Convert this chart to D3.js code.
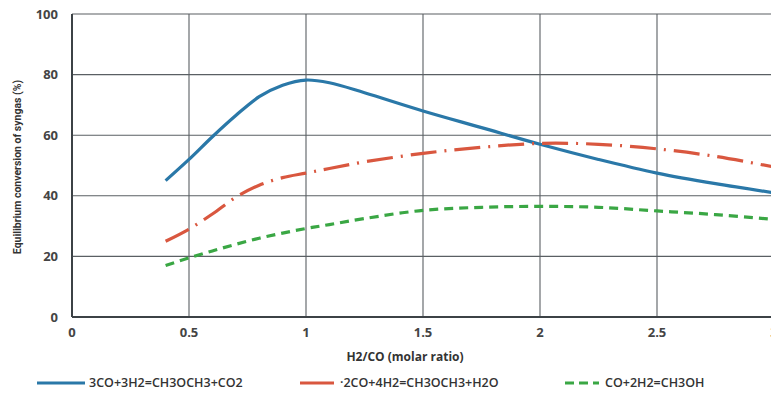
<!DOCTYPE html>
<html>
<head>
<meta charset="utf-8">
<script src="https://cdn.jsdelivr.net/npm/d3@7"></script>
<style>
  body { margin: 0; background: #fff; }
  svg { font-family: "Open Sans", "DejaVu Sans", sans-serif; }
</style>
</head>
<body>
<svg id="chart" width="771" height="401"></svg>
<script>
// H2/CO molar ratio
const ratios = [0.4, 0.5, 0.6, 0.7, 0.8, 0.9, 1.0, 1.1, 1.25, 1.5, 1.75, 2.0, 2.25, 2.5, 2.75, 3.0];
// equilibrium conversion (%) per reaction
const dmeCO2 = [45, 52, 59.5, 66.5, 72.7, 76.5, 78.2, 77.3, 74, 68, 62.5, 57, 52, 47.5, 44, 41];
const dmeH2O = [25, 29, 34, 39.5, 43.5, 46, 47.5, 49, 51.2, 54, 56, 57.3, 57, 55.5, 53, 49.5];
const methanol = [17, 19.5, 21.8, 24, 26, 27.7, 29.2, 30.5, 32.5, 35.2, 36.2, 36.5, 36.2, 35, 33.8, 32.2];
const seriesNames = ["3CO+3H2=CH3OCH3+CO2", "\u00b72CO+4H2=CH3OCH3+H2O", "CO+2H2=CH3OH"];
const xTicks = [0, 0.5, 1, 1.5, 2, 2.5, 3];
const yTicks = [0, 20, 40, 60, 80, 100];

const svg = d3.select("#chart");
const m = { left: 72, top: 14, right: 774, bottom: 317 };

const x = d3.scaleLinear().domain([0, 3]).range([m.left, m.right]);
const y = d3.scaleLinear().domain([0, 100]).range([m.bottom, m.top]);

// grid
const grid = svg.append("g").attr("stroke", "#5a5f63").attr("stroke-width", 1.1);
grid.selectAll(".gx").data(xTicks).enter().append("line")
    .attr("x1", d => x(d)).attr("x2", d => x(d))
    .attr("y1", y(0)).attr("y2", y(100));
grid.selectAll(".gy").data(yTicks).enter().append("line")
    .attr("x1", x(0)).attr("x2", x(3))
    .attr("y1", d => y(d)).attr("y2", d => y(d));

// axis lines a bit heavier
svg.append("line").attr("x1", x(0)).attr("x2", x(0)).attr("y1", y(0)).attr("y2", y(100))
    .attr("stroke", "#3c4246").attr("stroke-width", 2);
svg.append("line").attr("x1", x(0)).attr("x2", x(3)).attr("y1", y(0)).attr("y2", y(0))
    .attr("stroke", "#3c4246").attr("stroke-width", 2);

// tick labels
svg.selectAll(".yt").data(yTicks).enter().append("text")
    .attr("x", x(0) - 14).attr("y", d => y(d)).attr("dy", "0.35em")
    .attr("text-anchor", "end").attr("font-size", 13).attr("font-weight", 700)
    .attr("fill", "#444").text(d => d);
svg.selectAll(".xt").data(xTicks).enter().append("text")
    .attr("x", d => x(d)).attr("y", y(0) + 20)
    .attr("text-anchor", "middle").attr("font-size", 13).attr("font-weight", 700)
    .attr("fill", "#444").text(d => d);

// axis titles
svg.append("text").attr("x", 405).attr("y", 361)
    .attr("text-anchor", "middle").attr("font-size", 12).attr("font-weight", 700)
    .attr("fill", "#333").text("H2/CO (molar ratio)");
svg.append("text").attr("transform", "translate(21,167) rotate(-90)")
    .attr("text-anchor", "middle").attr("font-size", 10.5).attr("font-weight", 700)
    .attr("font-family", "'Liberation Sans Narrow', 'Roboto', sans-serif")
    .attr("fill", "#333").text("Equilibrium conversion of syngas (%)");

// curves
const series = [
  { values: dmeCO2, color: "#2a78a8", dash: null },
  { values: dmeH2O, color: "#d9573f", dash: "26,8,2,8" },
  { values: methanol, color: "#3aa744", dash: "9,6" }
];
const line = d3.line().curve(d3.curveCatmullRom.alpha(0.5))
    .x((d, i) => x(ratios[i])).y(d => y(d));

svg.append("defs").append("clipPath").attr("id", "clip")
  .append("rect").attr("x", m.left).attr("y", m.top)
  .attr("width", m.right - m.left).attr("height", m.bottom - m.top);

svg.append("g").attr("clip-path", "url(#clip)")
  .selectAll("path").data(series).enter().append("path")
    .attr("d", d => line(d.values))
    .attr("fill", "none").attr("stroke", d => d.color)
    .attr("stroke-width", 3.2)
    .attr("stroke-dasharray", d => d.dash);

// legend
const legendX = [37, 300, 565];
const lg = svg.selectAll(".lg").data(series).enter().append("g")
    .attr("transform", (d, i) => `translate(${legendX[i]},383)`);
lg.append("line").attr("x1", 0).attr("x2", (d, i) => i === 0 ? 48 : 34)
    .attr("stroke", d => d.color).attr("stroke-width", 3)
    .attr("stroke-dasharray", (d, i) => i === 2 ? "9,5" : null);
lg.append("text").attr("x", (d, i) => i === 0 ? 52 : 40).attr("dy", "0.35em")
    .attr("font-size", 12.5).attr("font-weight", 600).attr("fill", "#333")
    .text((d, i) => seriesNames[i]);
</script>
</body>
</html>
